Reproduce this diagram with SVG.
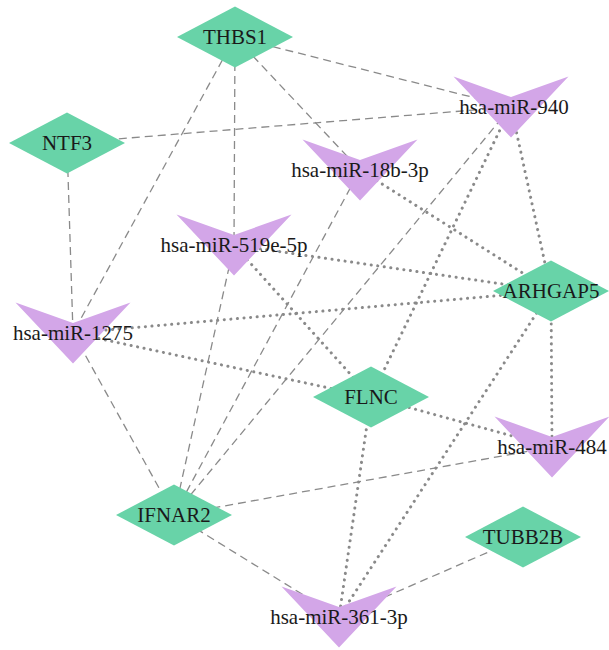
<svg xmlns="http://www.w3.org/2000/svg" width="609" height="650" viewBox="0 0 609 650">
<style>
.e{fill:none;stroke:#8a8a8a}
.da{stroke-width:1.3;stroke-dasharray:8 5}
.do{stroke-width:3;stroke-dasharray:0.1 6.5;stroke-linecap:round}
.g{fill:#68D3A8}
.m{fill:#D3A6E8}
text{font-family:"Liberation Serif","Times New Roman",serif;font-size:21px;fill:#1a1a1a;text-anchor:middle}
</style>
<defs>
<polygon id="dia" points="-58,0 0,-30.5 58,0 0,30.5"/>
<polygon id="vee" points="-57.5,-30.5 0,-10 57.5,-30.5 0,30.5"/>
</defs>
<rect width="609" height="650" fill="#fff"/>
<g id="edges">
<line class="e da" x1="235" y1="37" x2="511" y2="107"/>
<line class="e da" x1="235" y1="37" x2="360" y2="170"/>
<line class="e da" x1="235" y1="37" x2="234" y2="245"/>
<line class="e da" x1="235" y1="37" x2="73" y2="333"/>
<line class="e da" x1="67" y1="143" x2="511" y2="107"/>
<line class="e da" x1="67" y1="143" x2="73" y2="333"/>
<line class="e da" x1="73" y1="333" x2="174" y2="515"/>
<line class="e da" x1="174" y1="515" x2="234" y2="245"/>
<line class="e da" x1="174" y1="515" x2="360" y2="170"/>
<line class="e da" x1="174" y1="515" x2="511" y2="107"/>
<line class="e da" x1="174" y1="515" x2="552" y2="447"/>
<line class="e da" x1="174" y1="515" x2="339" y2="617"/>
<line class="e da" x1="523" y1="537" x2="339" y2="617"/>
<line class="e do" x1="511" y1="107" x2="551" y2="291"/>
<line class="e do" x1="511" y1="107" x2="371" y2="397"/>
<line class="e do" x1="360" y1="170" x2="551" y2="291"/>
<line class="e do" x1="234" y1="245" x2="551" y2="291"/>
<line class="e do" x1="234" y1="245" x2="371" y2="397"/>
<line class="e do" x1="73" y1="333" x2="551" y2="291"/>
<line class="e do" x1="73" y1="333" x2="371" y2="397"/>
<line class="e do" x1="551" y1="291" x2="552" y2="447"/>
<line class="e do" x1="551" y1="291" x2="339" y2="617"/>
<line class="e do" x1="371" y1="397" x2="552" y2="447"/>
<line class="e do" x1="371" y1="397" x2="339" y2="617"/>
</g>
<g id="THBS1" transform="translate(235,37)"><use href="#dia" class="g"/><text dy="0.33em">THBS1</text></g>
<g id="NTF3" transform="translate(67,143)"><use href="#dia" class="g"/><text dy="0.33em">NTF3</text></g>
<g id="ARHGAP5" transform="translate(551,291)"><use href="#dia" class="g"/><text dy="0.33em">ARHGAP5</text></g>
<g id="FLNC" transform="translate(371,397)"><use href="#dia" class="g"/><text dy="0.33em">FLNC</text></g>
<g id="IFNAR2" transform="translate(174,515)"><use href="#dia" class="g"/><text dy="0.33em">IFNAR2</text></g>
<g id="TUBB2B" transform="translate(523,537)"><use href="#dia" class="g"/><text dy="0.33em">TUBB2B</text></g>
<g id="hsa-miR-940" transform="translate(511,107)"><use href="#vee" class="m"/><text x="3" dy="0.33em">hsa-miR-940</text></g>
<g id="hsa-miR-18b-3p" transform="translate(360,170)"><use href="#vee" class="m"/><text dy="0.33em">hsa-miR-18b-3p</text></g>
<g id="hsa-miR-519e-5p" transform="translate(234,245)"><use href="#vee" class="m"/><text dy="0.33em">hsa-miR-519e-5p</text></g>
<g id="hsa-miR-1275" transform="translate(73,333)"><use href="#vee" class="m"/><text dy="0.33em">hsa-miR-1275</text></g>
<g id="hsa-miR-484" transform="translate(552,447)"><use href="#vee" class="m"/><text dy="0.33em">hsa-miR-484</text></g>
<g id="hsa-miR-361-3p" transform="translate(339,617)"><use href="#vee" class="m"/><text dy="0.33em">hsa-miR-361-3p</text></g>
</svg>
